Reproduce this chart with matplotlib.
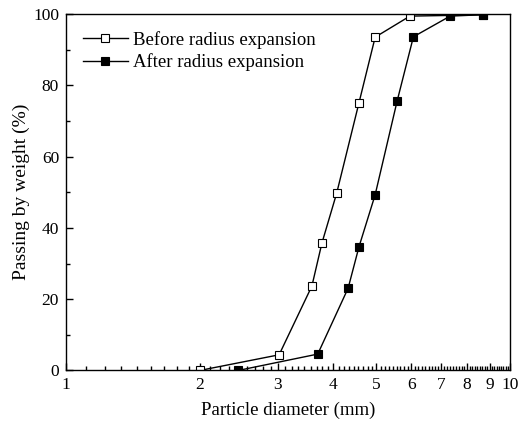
import matplotlib.pyplot as plt
import numpy as np
from matplotlib.ticker import FixedLocator, NullFormatter

# -----------------------------
# Data
# -----------------------------
before_d = [2.0, 3.02, 3.58, 3.77, 4.07, 4.57, 4.97, 5.95, 7.33, 8.69]
before_p = [0.0, 4.4, 23.7, 35.7, 49.7, 75.1, 93.5, 99.4, 99.6, 99.8]

after_d = [2.44, 3.69, 4.32, 4.57, 4.97, 5.57, 6.06, 7.33, 8.69]
after_p = [0.0, 4.6, 23.1, 34.7, 49.3, 75.6, 93.6, 99.4, 99.8]

x_ticks = [1, 2, 3, 4, 5, 6, 7, 8, 9, 10]
y_ticks = [0, 20, 40, 60, 80, 100]

plt.rcParams["font.family"] = ["Liberation Serif", "DejaVu Serif"]

fig = plt.figure(figsize=(5.25, 4.29), dpi=100)
ax = fig.add_axes([0.1257, 0.1364, 0.8457, 0.831])

ax.plot(before_d, before_p, color="black", lw=1.0, marker="s", ms=5.5,
        mfc="white", mec="black", mew=0.8, label="Before radius expansion")
ax.plot(after_d, after_p, color="black", lw=1.0, marker="s", ms=5.5,
        mfc="black", mec="black", mew=0.8, label="After radius expansion")

ax.set_xscale("log")
ax.set_xlim(1, 10)
ax.set_ylim(0, 100)

ax.xaxis.set_major_locator(FixedLocator(x_ticks))
ax.set_xticklabels([str(t) for t in x_ticks])
minor = []
for a in x_ticks[:-1]:
    minor.extend(np.linspace(a, a + 1, 10)[1:-1])
ax.xaxis.set_minor_locator(FixedLocator(minor))
ax.xaxis.set_minor_formatter(NullFormatter())

ax.set_yticks(y_ticks)
ax.set_yticks([10, 30, 50, 70, 90], minor=True)

ax.tick_params(which="both", direction="in", top=False, right=False,
               labelsize=12.5, width=1.0)
ax.tick_params(which="major", length=5, pad=5)
ax.tick_params(which="minor", length=3)
for s in ax.spines.values():
    s.set_linewidth(1.0)

ax.set_xlabel("Particle diameter (mm)", fontsize=13.5, labelpad=6)
ax.set_ylabel("Passing by weight (%)", fontsize=14, labelpad=2)

ax.legend(loc="upper left", frameon=False, fontsize=13.5, handlelength=2.4,
          handletextpad=0.3, borderaxespad=0.5, labelspacing=0.25,
          bbox_to_anchor=(0.0, 1.0))

fig.savefig("out.png", dpi=100)
